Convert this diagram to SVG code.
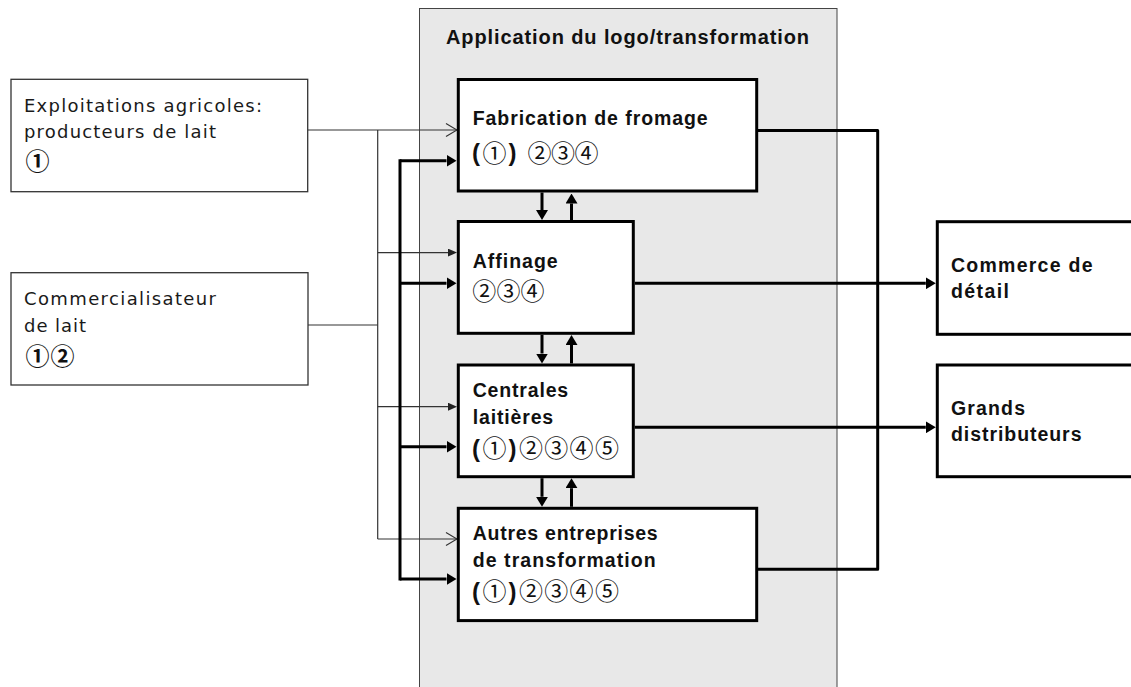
<svg xmlns="http://www.w3.org/2000/svg" width="1131" height="687" viewBox="0 0 1131 687">
<style>
.panel{fill:#e8e8e8;stroke:#444;stroke-width:1}
.src{fill:#fff;stroke:#333;stroke-width:1.3}
.box{fill:#fff;stroke:#000;stroke-width:3}
.thin{fill:none;stroke:#333;stroke-width:1.2}
.thick{fill:none;stroke:#000;stroke-width:3}
.reg{font-family:"DejaVu Sans","Liberation Sans",sans-serif;font-size:18px;fill:#1a1a1a}
.bold{font-family:"Liberation Sans",Arial,sans-serif;font-size:19.5px;font-weight:bold;fill:#111}
.title{font-family:"Liberation Sans",Arial,sans-serif;font-size:20px;font-weight:bold;fill:#111}
.par{font-family:"Liberation Sans",Arial,sans-serif;font-size:24px;font-weight:bold;fill:#111}
.circ{font-family:"Noto Sans CJK JP","DejaVu Sans",sans-serif;font-size:24px;fill:#111}
.circL{font-family:"Noto Sans CJK JP","DejaVu Sans",sans-serif;font-size:24px;font-weight:bold;fill:#111}
</style>
<defs>
<marker id="aThick" markerUnits="userSpaceOnUse" markerWidth="10" markerHeight="12" viewBox="0 0 10 12" refX="0" refY="6" orient="auto"><path d="M0,0 L10,6 L0,12 z" fill="#000"/></marker>
<marker id="aSmall" markerUnits="userSpaceOnUse" markerWidth="9" markerHeight="8" viewBox="0 0 9 8" refX="0" refY="4" orient="auto"><path d="M0,0 L9,4 L0,8 z" fill="#222"/></marker>
<marker id="aOpen" markerUnits="userSpaceOnUse" markerWidth="14" markerHeight="16" viewBox="-2 -1.5 14 16" refX="11" refY="6.5" orient="auto"><path d="M0,0 L11,6.5 L0,13" fill="none" stroke="#333" stroke-width="1.2"/></marker>
</defs>

<g id="panel">
<rect class="panel" x="419.5" y="8.5" width="417.5" height="700"/>
<text class="title" x="446" y="44.3" textLength="363" lengthAdjust="spacing">Application du logo/transformation</text>
</g>

<g id="connectors">
<path class="thin" d="M308,130 H457" marker-end="url(#aOpen)"/>
<path class="thin" d="M377.7,130 V539"/>
<path class="thin" d="M308,325 H377.7"/>
<path class="thin" d="M377.7,252.6 H448" marker-end="url(#aSmall)"/>
<path class="thin" d="M377.7,406.7 H448" marker-end="url(#aSmall)"/>
<path class="thin" d="M377.7,539 H457" marker-end="url(#aOpen)"/>
<path class="thick" d="M400,159.2 V580.5"/>
<path class="thick" d="M400,160.7 H446.5" marker-end="url(#aThick)"/>
<path class="thick" d="M400,283.3 H446.5" marker-end="url(#aThick)"/>
<path class="thick" d="M400,446.7 H446.5" marker-end="url(#aThick)"/>
<path class="thick" d="M400,579 H446.5" marker-end="url(#aThick)"/>
<path class="thick" d="M542,192.5 V210" marker-end="url(#aThick)"/>
<path class="thick" d="M571.5,220 V203.5" marker-end="url(#aThick)"/>
<path class="thick" d="M542,334.8 V353.5" marker-end="url(#aThick)"/>
<path class="thick" d="M571.5,363.5 V345" marker-end="url(#aThick)"/>
<path class="thick" d="M542,478.2 V496.8" marker-end="url(#aThick)"/>
<path class="thick" d="M571.5,506.8 V488.2" marker-end="url(#aThick)"/>
<path class="thick" d="M758,130.5 H877.7 V569.3 H758" stroke-linejoin="round"/>
<path class="thick" d="M634.8,283.3 H925.8" marker-end="url(#aThick)"/>
<path class="thick" d="M634.8,427.3 H925.8" marker-end="url(#aThick)"/>
</g>

<g id="exploitations">
<rect class="src" x="11" y="79.3" width="296.7" height="112.4"/>
<text class="reg" x="24" y="111.7" textLength="238" lengthAdjust="spacing">Exploitations agricoles:</text>
<text class="reg" x="24" y="138.3" textLength="192" lengthAdjust="spacing">producteurs de lait</text>
<text class="circL" x="25.5" y="169.6">①</text>
</g>

<g id="commercialisateur">
<rect class="src" x="11" y="272.7" width="297" height="112.3"/>
<text class="reg" x="24" y="305" textLength="192" lengthAdjust="spacing">Commercialisateur</text>
<text class="reg" x="24" y="331.7" textLength="62" lengthAdjust="spacing">de lait</text>
<text class="circL" x="25.5" y="364.6" letter-spacing="1">①②</text>
</g>

<g id="fabrication">
<rect class="box" x="458.3" y="79.5" width="298.4" height="111.5"/>
<text class="bold" x="472.7" y="125" textLength="235" lengthAdjust="spacing">Fabrication de fromage</text>
<text y="161.6"><tspan class="par" x="472" y="161">(</tspan><tspan class="circ" x="482.5" y="161.6">①</tspan><tspan class="par" x="508.5" y="161">)</tspan><tspan class="circ" x="527.5" y="161.6" letter-spacing="-0.5">②③④</tspan></text>
</g>

<g id="affinage">
<rect class="box" x="458.3" y="221.5" width="175" height="111.8"/>
<text class="bold" x="472.7" y="267.7" textLength="85" lengthAdjust="spacing">Affinage</text>
<text class="circ" x="472.2" y="300.3" letter-spacing="0.2">②③④</text>
</g>

<g id="centrales">
<rect class="box" x="458.3" y="365" width="175" height="111.7"/>
<text class="bold" x="472.7" y="397.3" textLength="95.5" lengthAdjust="spacing">Centrales</text>
<text class="bold" x="472.7" y="424" textLength="80.5" lengthAdjust="spacing">laitières</text>
<text y="457"><tspan class="par" x="472">(</tspan><tspan class="circ" x="482.5">①</tspan><tspan class="par" x="508.5">)</tspan><tspan class="circ" x="519" letter-spacing="1.3">②③④⑤</tspan></text>
</g>

<g id="autres">
<rect class="box" x="458.3" y="508.3" width="298.4" height="112.3"/>
<text class="bold" x="472.7" y="540" textLength="185" lengthAdjust="spacing">Autres entreprises</text>
<text class="bold" x="472.7" y="566.7" textLength="183" lengthAdjust="spacing">de transformation</text>
<text y="600"><tspan class="par" x="472">(</tspan><tspan class="circ" x="482.5">①</tspan><tspan class="par" x="508.5">)</tspan><tspan class="circ" x="519" letter-spacing="1.3">②③④⑤</tspan></text>
</g>

<g id="commerce">
<rect class="box" x="937.3" y="221.7" width="220" height="112.6"/>
<text class="bold" x="951" y="271.7" textLength="141.5" lengthAdjust="spacing">Commerce de</text>
<text class="bold" x="951" y="298.3" textLength="58" lengthAdjust="spacing">détail</text>
</g>

<g id="grands">
<rect class="box" x="937.3" y="365" width="220" height="111.7"/>
<text class="bold" x="951" y="415" textLength="74" lengthAdjust="spacing">Grands</text>
<text class="bold" x="951" y="440.7" textLength="130.5" lengthAdjust="spacing">distributeurs</text>
</g>
</svg>
